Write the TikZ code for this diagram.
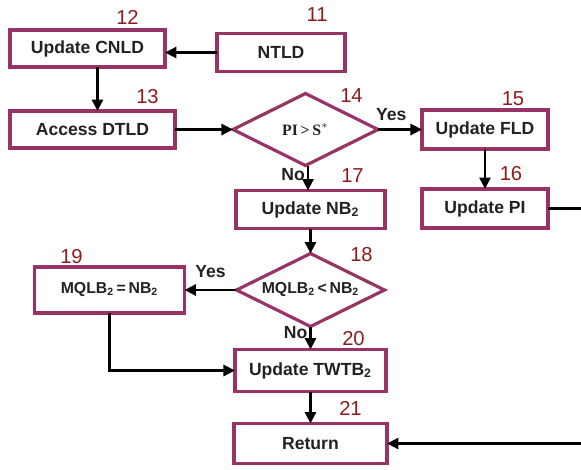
\documentclass[tikz,border=0pt]{standalone}
\usepackage{fontspec}
\setmainfont{Liberation Sans}
\newfontfamily\serifbold{Liberation Serif}
\usetikzlibrary{arrows.meta,positioning,shapes.geometric}
\definecolor{frame}{HTML}{993366}
\definecolor{numred}{HTML}{8E1B1B}
\definecolor{ink}{HTML}{222222}

\begin{document}
\begin{tikzpicture}[
  box/.style={draw=frame, line width=1.8pt, outer sep=0pt, fill=white, minimum width=30mm, minimum height=7.6mm, inner sep=1pt, align=center, font=\bfseries\normalsize, text=ink},
  dec/.style={diamond, aspect=2, draw=frame, line width=1.8pt, outer sep=0pt, fill=white, minimum width=29mm, minimum height=14.4mm, inner sep=0pt, align=center, font=\bfseries\small, text=ink},
  num/.style={font=\fontsize{11.5}{13}\selectfont, text=numred, inner sep=0pt},
  lbl/.style={font=\bfseries\normalsize, text=ink, inner sep=1pt},
  arrow/.style={-{Triangle[length=2.3mm,width=2.2mm]}, line width=1.6pt},
  plain/.style={line width=1.6pt}
]
\useasboundingbox (0,0) rectangle (11.62,-9.4);
\coordinate (rim) at (11.62,0);

% left part
\node[box, minimum width=31mm, minimum height=7.4mm] (cnld) at (1.75,-0.97) {Update CNLD};
\node[box, minimum width=25.6mm, right=10.4mm of cnld, yshift=-0.8mm] (ntld) {NTLD};
\node[box, minimum width=33mm, minimum height=7.4mm, below=8.8mm of cnld.south west, anchor=north west] (dtld) {Access DTLD};
\node[dec, right=11.6mm of dtld] (cmp) {{\serifbold\bfseries PI\,>\,S$^{*}$}};
\node[box, minimum width=25.2mm, minimum height=7.8mm, right=8.8mm of cmp] (fld) {Update FLD};
\node[box, minimum width=25.2mm, minimum height=7.8mm, below=8mm of fld] (pi) {Update PI};

% main column
\node[box, minimum width=29.8mm, below=5mm of cmp, xshift=1mm] (nb) {Update NB\textsubscript{2}};
\node[dec, minimum width=29.6mm, minimum height=14.6mm, below=5mm of nb] (mqcmp) {MQLB\textsubscript{2}\,<\,NB\textsubscript{2}};
\node[box, minimum width=30mm, minimum height=9.2mm, left=10.4mm of mqcmp, font=\bfseries\small] (mq) {MQLB\textsubscript{2}\,=\,NB\textsubscript{2}};
\node[box, minimum width=30.2mm, minimum height=8.4mm, below=4.6mm of mqcmp] (twtb) {Update TWTB\textsubscript{2}};
\node[box, minimum width=30.6mm, minimum height=8mm, below=6.4mm of twtb] (ret) {Return};

% step numbers
\node[num] (n11) at ([xshift=7.2mm,yshift=3.8mm]ntld.north) {11};
\node[num] (n12) at ([xshift=8mm,yshift=2.6mm]cnld.north) {12};
\node[num] (n13) at ([xshift=11mm,yshift=2.8mm]dtld.north) {13};
\node[num] (n14) at ([xshift=9.2mm,yshift=-0.4mm]cmp.north) {14};
\node[num] (n15) at ([xshift=5.6mm,yshift=2.2mm]fld.north) {15};
\node[num] (n16) at ([xshift=5.2mm,yshift=3mm]pi.north) {16};
\node[num] (n17) at ([xshift=8.4mm,yshift=3mm]nb.north) {17};
\node[num] (n18) at ([xshift=10.2mm,yshift=-0.2mm]mqcmp.north) {18};
\node[num] (n19) at ([xshift=-7.6mm,yshift=2mm]mq.north) {19};
\node[num] (n20) at ([xshift=8.6mm,yshift=2.2mm]twtb.north) {20};
\node[num] (n21) at ([xshift=8mm,yshift=3mm]ret.north) {21};

% connectors
\draw[arrow] (ntld.west) -- (ntld.west -| cnld.east);
\draw[arrow] ([xshift=2mm]cnld.south) -- ([xshift=2mm]cnld.south |- dtld.north);
\draw[arrow] (dtld) -- (cmp);
\draw[arrow] (cmp) -- node[lbl, above, pos=0.3, yshift=1.2mm] {Yes} (fld);
\draw[arrow] ([xshift=0.5mm]cmp.south) -- node[lbl, left, pos=0.35] {No} ([xshift=0.5mm]cmp.south |- nb.north);
\draw[arrow] (fld) -- (pi);
\draw[plain] (pi.east) -- (pi.east -| rim);
\draw[arrow] (nb) -- (mqcmp);
\draw[arrow] (mqcmp) -- node[lbl, above, pos=0.5, yshift=1.8mm] {Yes} (mq);
\draw[arrow] (mqcmp) -- node[lbl, left, pos=0.25] {No} (twtb);
\draw[arrow] (mq.south) |- (twtb.west);
\draw[arrow] (twtb) -- (ret);
\draw[arrow] (ret.east -| rim) -- (ret.east);
\end{tikzpicture}
\end{document}
